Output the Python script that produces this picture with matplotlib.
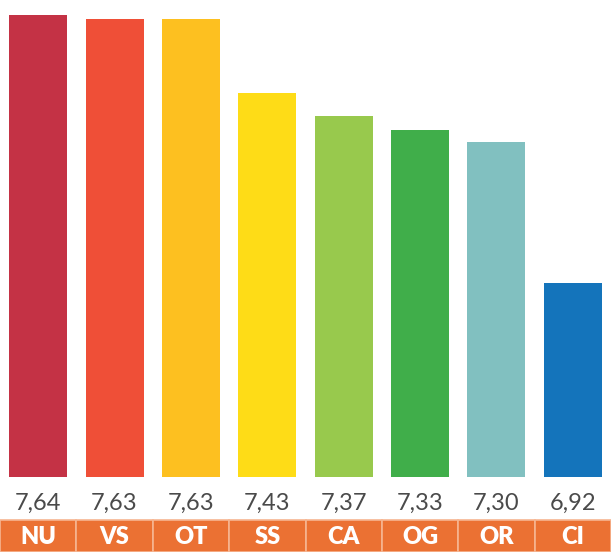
import matplotlib.pyplot as plt

# Médias por categoria
siglas = ["NU", "VS", "OT", "SS", "CA", "OG", "OR", "CI"]
medias = [7.64, 7.63, 7.63, 7.43, 7.37, 7.33, 7.30, 6.92]
rotulos = ["7,64", "7,63", "7,63", "7,43", "7,37", "7,33", "7,30", "6,92"]
cores = ["#C43245", "#EF4F37", "#FDC020", "#FEDC17",
         "#98C94D", "#40AE4A", "#81C0C0", "#1474BB"]

laranja = "#EB7133"

fig = plt.figure(figsize=(6.11, 5.52), dpi=100)
W, H = 611, 552
base = 75  # altura da faixa inferior em px

# Barras
ax = fig.add_axes([0, base / H, 1, (H - base) / H])
x = range(len(siglas))
ax.bar(x, medias, width=0.76, color=cores, bottom=0)
ax.set_xlim(-0.5, len(siglas) - 0.5)
ax.set_ylim(6.40, 7.68)
ax.axis("off")

# Faixa com valores e siglas
axb = fig.add_axes([0, 0, 1, base / H])
axb.set_xlim(-0.5, len(siglas) - 0.5)
axb.set_ylim(base, 0)
axb.axis("off")
axb.bar(x, [32] * len(siglas), bottom=43, width=1.0, color=laranja,
        edgecolor="#F6B591", linewidth=1.2)
for i, (r, s) in enumerate(zip(rotulos, siglas)):
    axb.text(i, 26, r, ha="center", va="center", fontsize=17,
             color="#4a4a4a", family="Lato", fontweight="normal")
    axb.text(i, 60, s, ha="center", va="center", fontsize=17,
             color="white", family="Lato", fontweight="heavy")

fig.savefig("out.png", dpi=100)
